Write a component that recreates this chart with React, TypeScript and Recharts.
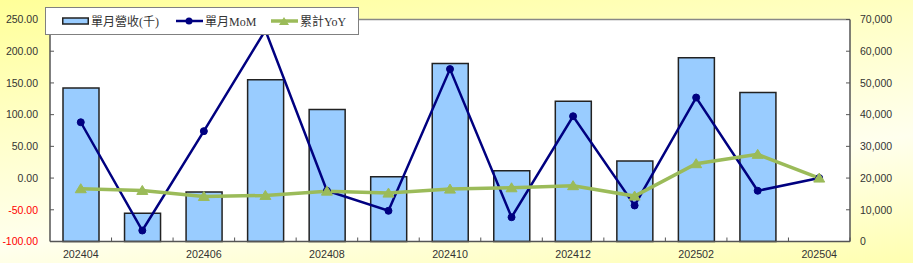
import React from "react";
import {
  ComposedChart,
  Bar,
  Line,
  XAxis,
  YAxis,
  CartesianGrid,
  ReferenceLine,
} from "recharts";

const months = [
  "202404", "202405", "202406", "202407", "202408", "202409", "202410",
  "202411", "202412", "202501", "202502", "202503", "202504",
];
// 單月營收(千) - right axis
const revenue = [48400, 8900, 15600, 51000, 41600, 20400, 56100, 22300, 44200, 25400, 57900, 47000, null];
// 單月MoM - left axis (%)
const mom = [88, -82.7, 74, 233, -20, -51.6, 171.8, -61.7, 97.5, -43.2, 127, -20, 0];
// 累計YoY - left axis (%)
const yoy = [-16.8, -19.5, -29, -27.4, -20.6, -23.7, -17.4, -15.3, -12, -28.4, 22.7, 37.4, 0];

const leftTicks = [-100, -50, 0, 50, 100, 150, 200, 250];
const rightTicks = [0, 10000, 20000, 30000, 40000, 50000, 60000, 70000];
const legendNames = ["單月營收(千)", "單月MoM", "累計YoY"];

const data = months.map((m, i) => ({
  month: m,
  revenue: revenue[i],
  mom: mom[i],
  yoy: yoy[i],
}));

const W = 913;
const H = 263;
const LEFT_W = 50;
const RIGHT_W = 63;
const BAND = (W - LEFT_W - RIGHT_W) / months.length;

const NAVY = "#000080";
const GREEN = "#9BBB59";
const BLUE = "#99CCFF";
const AXIS = "#555";
const TICK_FONT = '"Liberation Sans", Arial, sans-serif';

const LeftTick = (props: any) => {
  const { x, y, payload } = props;
  const v = payload.value as number;
  return (
    <text
      x={x}
      y={y}
      dy="0.355em"
      textAnchor="end"
      fontFamily={TICK_FONT}
      fontSize={10.5}
      fill={v < 0 ? "#FF0000" : "#333"}
    >
      {v.toFixed(2)}
    </text>
  );
};

const BottomTick = (props: any) => {
  const { x, y, payload, index } = props;
  return (
    <g>
      <line x1={x + BAND / 2} x2={x + BAND / 2} y1={y} y2={y - 4} stroke={AXIS} />
      {index % 2 === 0 && (
        <text
          x={x}
          y={y + 16.5}
          textAnchor="middle"
          fontFamily={TICK_FONT}
          fontSize={10.7}
          fill="#333"
        >
          {payload.value}
        </text>
      )}
    </g>
  );
};

const Triangle = (props: any) => {
  const { cx, cy, index } = props;
  if (cx == null || cy == null) return <g key={index} />;
  return (
    <polygon
      key={index}
      points={`${cx - 5.5},${cy + 4} ${cx + 5.5},${cy + 4} ${cx},${cy - 5}`}
      fill={GREEN}
      stroke={GREEN}
    />
  );
};

const legendIcons = [
  <svg width={27} height={10} key="b">
    <rect x={0.75} y={2} width={25.5} height={6} fill={BLUE} stroke="#222" strokeWidth={1.5} />
  </svg>,
  <svg width={27} height={10} key="m">
    <line x1={0} x2={27} y1={5} y2={5} stroke={NAVY} strokeWidth={2.5} />
    <circle cx={13} cy={5} r={3.5} fill={NAVY} />
  </svg>,
  <svg width={27} height={10} key="y">
    <line x1={0} x2={27} y1={5} y2={5} stroke={GREEN} strokeWidth={3.5} />
    <polygon points="8,9 18,9 13,1" fill={GREEN} />
  </svg>,
];
const legendLeft = [16, 130, 225];

export default function App() {
  return (
    <div
      style={{
        position: "absolute",
        left: 0,
        top: 0,
        width: W,
        height: H,
        background:
          "linear-gradient(173deg, #FFFF99 0%, #FFFFC8 35%, #FFFFEE 66%, #FFFFB0 100%)",
      }}
    >
      <ComposedChart
        width={W}
        height={H}
        data={data}
        margin={{ top: 19.5, right: 0, bottom: 0, left: 0 }}
      >
        <CartesianGrid horizontal={false} vertical={false} fill="#fff" />
        <XAxis
          dataKey="month"
          height={21.5}
          interval={0}
          tickLine={false}
          tickSize={0}
          tickMargin={0}
          axisLine={{ stroke: AXIS, strokeWidth: 1.5 }}
          tick={<BottomTick />}
        />
        <YAxis
          width={LEFT_W}
          domain={[-100, 250]}
          ticks={leftTicks}
          interval={0}
          tickSize={-4}
          tickMargin={16}
          axisLine={{ stroke: AXIS, strokeWidth: 1.5 }}
          tickLine={{ stroke: AXIS }}
          tick={<LeftTick />}
        />
        <YAxis
          yAxisId="right"
          orientation="right"
          width={RIGHT_W}
          domain={[0, 70000]}
          ticks={rightTicks}
          interval={0}
          tickSize={-4}
          tickMargin={14}
          axisLine={{ stroke: AXIS, strokeWidth: 1.5 }}
          tickLine={{ stroke: AXIS }}
          tickFormatter={(v: number) => v.toLocaleString("en-US")}
          tick={{ fontFamily: TICK_FONT, fontSize: 10.5, fill: "#333", textAnchor: "start" }}
        />
        <ReferenceLine y={250} stroke="#888" strokeWidth={1.5} />
        <Bar
          yAxisId="right"
          dataKey="revenue"
          fill={BLUE}
          stroke="#222"
          strokeWidth={1.5}
          barSize={36}
          isAnimationActive={false}
        />
        <Line
          type="linear"
          dataKey="mom"
          stroke={NAVY}
          strokeWidth={2.5}
          dot={{ r: 3.5, fill: NAVY, stroke: NAVY, strokeWidth: 1 }}
          activeDot={false}
          isAnimationActive={false}
        />
        <Line
          type="linear"
          dataKey="yoy"
          stroke={GREEN}
          strokeWidth={3.5}
          dot={<Triangle />}
          activeDot={false}
          isAnimationActive={false}
        />
      </ComposedChart>
      <div
        style={{
          position: "absolute",
          left: 45,
          top: 7,
          width: 314,
          height: 28,
          boxSizing: "border-box",
          border: "1px solid #808080",
          background: "#fff",
          fontFamily: '"Liberation Serif", "Noto Sans CJK TC", serif',
          fontSize: 12,
          color: "#333",
        }}
      >
        {legendNames.map((name, i) => (
          <div
            key={name}
            style={{
              position: "absolute",
              left: legendLeft[i],
              top: 0,
              height: 26,
              display: "flex",
              alignItems: "center",
              gap: 2,
              whiteSpace: "nowrap",
            }}
          >
            {legendIcons[i]}
            <span>{name}</span>
          </div>
        ))}
      </div>
    </div>
  );
}
